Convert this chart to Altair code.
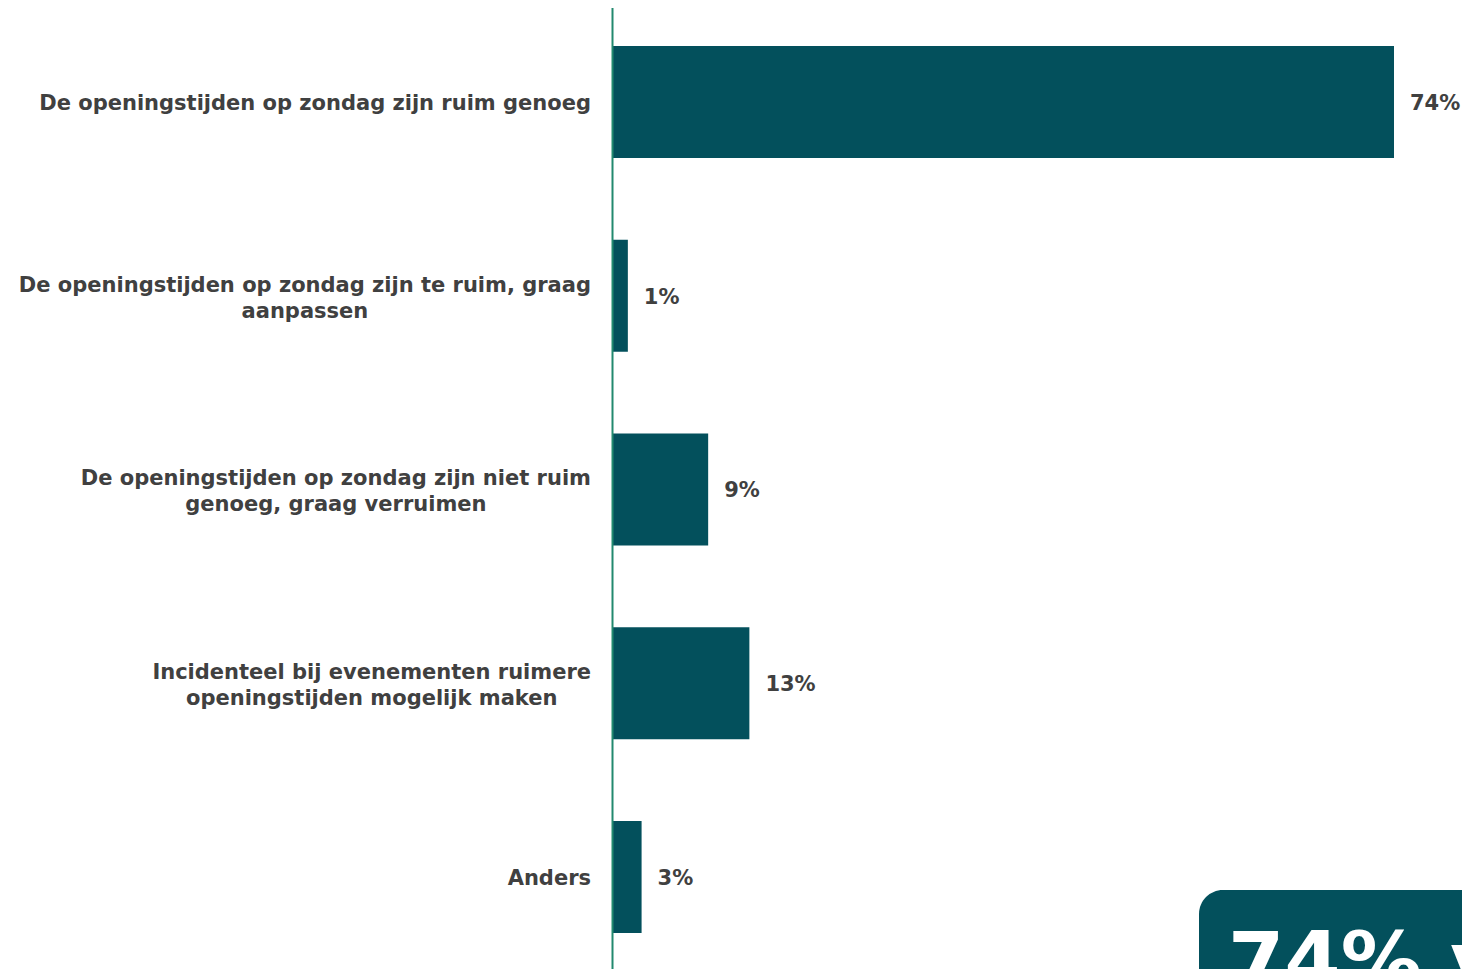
import altair as alt
import pandas as pd

# ---- data ----
categories = [
    "De openingstijden op zondag zijn ruim genoeg",
    "De openingstijden op zondag zijn te ruim, graag aanpassen",
    "De openingstijden op zondag zijn niet ruim genoeg, graag verruimen",
    "Incidenteel bij evenementen ruimere openingstijden mogelijk maken",
    "Anders",
]
wrapped_labels = [
    "De openingstijden op zondag zijn ruim genoeg",
    "De openingstijden op zondag zijn te ruim, graag\naanpassen",
    "De openingstijden op zondag zijn niet ruim\ngenoeg, graag verruimen",
    "Incidenteel bij evenementen ruimere\nopeningstijden mogelijk maken",
    "Anders",
]
values = [74, 1.5, 9.1, 13.0, 2.8]
value_labels = ["74%", "1%", "9%", "13%", "3%"]
callout_text = "74% vindt de openingstijden ruim genoeg"

# ---- styling ----
BAR = "#03505C"
AXIS = "#22896F"
TXT = "#404040"
FONT = "DejaVu Sans"
FS = 21

# approximate DejaVu Sans Bold advance widths (em) to centre wrapped labels
W = {" ": .348, ",": .382, "%": 1.002, "A": .774, "D": .830, "I": .372,
     "a": .675, "b": .716, "c": .593, "d": .716, "e": .678, "g": .716,
     "i": .343, "j": .343, "k": .665, "l": .343, "m": 1.042, "n": .712,
     "o": .687, "p": .716, "r": .493, "s": .595, "t": .478, "u": .712,
     "v": .650, "z": .582}


def text_width(s):
    return max(sum(W.get(ch, .65) for ch in line) for line in s.split("\n")) * FS


df = pd.DataFrame({
    "cat": categories,
    "lab": wrapped_labels,
    "val": values,
    "vlab": value_labels,
})
df["lx"] = [-21 - text_width(s) / 2 for s in wrapped_labels]
df["nl"] = [s.count("\n") + 1 for s in wrapped_labels]

WIDTH = 782
HEIGHT = 966
STEP = 193.75
PI = 0.422
PO = (HEIGHT / STEP - 5 + PI) / 2
ALIGN = 41 / (HEIGHT - STEP * (5 - PI))

yenc = alt.Y(
    "cat:N", sort=categories,
    scale=alt.Scale(paddingInner=PI, paddingOuter=PO, align=ALIGN),
    axis=alt.Axis(labels=False, ticks=False, title=None, domainColor=AXIS,
                  domainWidth=2, zindex=1, grid=False),
)
ycat = alt.Y("cat:N", sort=categories)

base = alt.Chart(df)

bars = base.mark_bar(color=BAR).encode(
    x=alt.X("val:Q", scale=alt.Scale(domain=[0, 74], nice=False), axis=None),
    y=yenc,
)

vals = base.mark_text(align="left", baseline="middle", dx=16, dy=2, font=FONT,
                      fontSize=FS, fontWeight="bold", color=TXT).encode(
    x=alt.X("val:Q"), y=ycat, text="vlab:N",
)

label_style = dict(align="center", baseline="middle", font=FONT, fontSize=FS,
                   fontWeight="bold", color=TXT, lineBreak="\n", lineHeight=26)

labels1 = base.transform_filter("datum.nl == 1").mark_text(
    dy=2, **label_style).encode(
    x=alt.X("lx:Q", scale=None), y=ycat, text="lab:N",
)
labels2 = base.transform_filter("datum.nl == 2").mark_text(
    dy=-10, **label_style).encode(
    x=alt.X("lx:Q", scale=None), y=ycat, text="lab:N",
)

box = alt.Chart(pd.DataFrame({"t": [callout_text]})).mark_rect(
    color=BAR, cornerRadius=24).encode(
    x=alt.value(587), x2=alt.value(900), y=alt.value(885), y2=alt.value(1100),
)

box_text = alt.Chart(pd.DataFrame({"t": [callout_text]})).mark_text(
    align="left", baseline="alphabetic", font=FONT, fontSize=81,
    fontWeight="bold", color="white").encode(
    x=alt.value(616), y=alt.value(984), text="t:N",
)

chart = alt.layer(bars, vals, labels1, labels2, box, box_text).properties(
    width=WIDTH, height=HEIGHT,
    autosize=alt.AutoSizeParams(type="none"),
    padding={"left": 604, "right": 68, "top": -3, "bottom": 0},
).configure_view(stroke=None).resolve_scale(y="shared")

chart.save("out.html", embed_options={"renderer": "svg", "actions": False})
